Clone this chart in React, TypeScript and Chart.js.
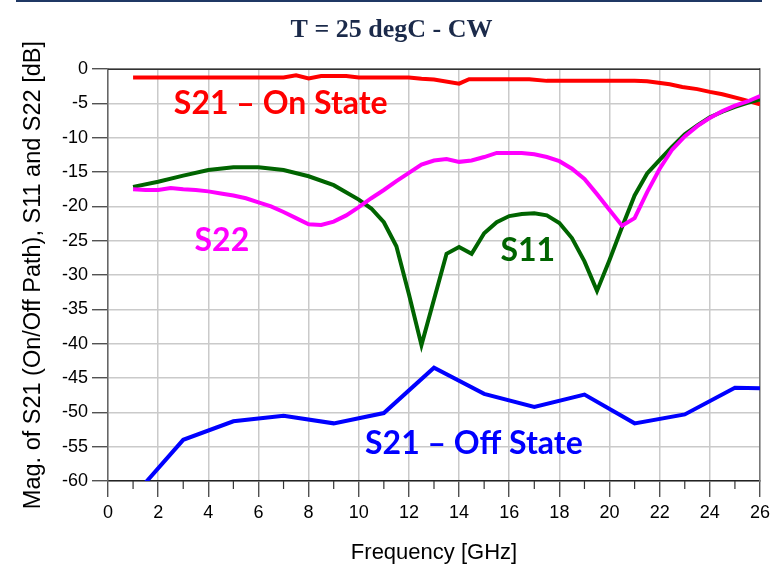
import React, { useEffect, useRef } from "react";
import { Chart, registerables } from "chart.js";

Chart.register(...registerables);

// ---- Data ----
const chartTitle = "T = 25 degC - CW";
const xAxisTitle = "Frequency [GHz]";
const yAxisTitle = "Mag. of S21 (On/Off Path), S11 and S22 [dB]";

const s21OnFreq = [1, 2, 3, 4, 5, 6, 7, 7.5, 8, 8.5, 9, 9.5, 10, 11, 12, 12.5, 13, 14, 14.4, 15, 16, 16.8, 17.5, 18, 19, 20, 21, 21.5, 22.4, 22.9, 23.5, 24, 24.5, 25.3, 26];
const s21OnDb = [-1.2, -1.2, -1.2, -1.2, -1.2, -1.2, -1.2, -0.9, -1.35, -1.0, -1.0, -1.0, -1.2, -1.2, -1.2, -1.4, -1.5, -2.1, -1.45, -1.45, -1.45, -1.45, -1.7, -1.7, -1.7, -1.7, -1.7, -1.75, -2.2, -2.6, -2.9, -3.3, -3.65, -4.4, -5.1];

const s21OffFreq = [1, 3, 5, 7, 9, 11, 13, 15, 17, 19, 21, 23, 25, 26];
const s21OffDb = [-62.3, -54.0, -51.3, -50.5, -51.6, -50.1, -43.5, -47.3, -49.2, -47.4, -51.6, -50.3, -46.4, -46.5];

const s11Freq = [1, 2, 3, 4, 5, 6, 7, 8, 9, 10, 10.5, 11, 11.5, 12, 12.5, 13.5, 14, 14.5, 15, 15.5, 16, 16.5, 17, 17.5, 18, 18.5, 19, 19.5, 20, 20.5, 21, 21.5, 22, 22.5, 23, 23.5, 24, 24.5, 25, 25.5, 26];
const s11Db = [-17.15, -16.4, -15.5, -14.7, -14.3, -14.3, -14.7, -15.6, -16.9, -19.0, -20.3, -22.3, -25.8, -32.8, -40.2, -26.9, -25.9, -26.9, -23.9, -22.3, -21.4, -21.1, -21.0, -21.3, -22.4, -24.6, -28.0, -32.3, -27.8, -23.0, -18.4, -15.2, -13.2, -11.3, -9.5, -8.2, -7.0, -6.2, -5.5, -4.9, -4.4];

const s22Freq = [1, 1.5, 2, 2.5, 3, 3.5, 4, 4.5, 5, 5.5, 6, 6.5, 7, 7.5, 8, 8.5, 9, 9.5, 10, 10.5, 11, 11.5, 12, 12.5, 13, 13.5, 14, 14.5, 15, 15.5, 16, 16.5, 17, 17.5, 18, 18.5, 19, 19.5, 20, 20.5, 21, 21.5, 22, 22.5, 23, 23.5, 24, 24.5, 25, 25.5, 26];
const s22Db = [-17.5, -17.6, -17.6, -17.3, -17.5, -17.6, -17.8, -18.1, -18.4, -18.8, -19.4, -20.0, -20.8, -21.7, -22.6, -22.7, -22.2, -21.3, -20.1, -18.8, -17.6, -16.3, -15.1, -13.9, -13.3, -13.1, -13.5, -13.3, -12.8, -12.2, -12.2, -12.2, -12.4, -12.8, -13.4, -14.5, -16.0, -18.2, -20.5, -22.8, -21.7, -17.9, -14.5, -11.7, -9.8, -8.3, -7.1, -6.1, -5.3, -4.7, -3.9];

const labelTexts = ["S21 \u2013 On State", "S22", "S11", "S21 \u2013 Off State"];
const labelFreq = [6.89, 4.54, 16.74, 14.59];
const labelDb = [-5.0, -25.05, -26.5, -54.5];
const labelColors = ["#ff0000", "#ff00ff", "#006400", "#0000ff"];

const toPts = (xs: number[], ys: number[]) => xs.map((x, i) => ({ x, y: ys[i] }));

const decorPlugin = {
  id: "decor",
  beforeDraw(chart: any) {
    const ctx = chart.ctx;
    ctx.save();
    ctx.strokeStyle = "#1f3864";
    ctx.lineWidth = 2;
    ctx.beginPath();
    ctx.moveTo(16, 1);
    ctx.lineTo(762, 1);
    ctx.stroke();
    ctx.restore();
  },
  beforeDatasetsDraw(chart: any) {
    const { ctx, chartArea, scales } = chart;
    ctx.save();
    ctx.strokeStyle = "#333333";
    ctx.lineWidth = 1.5;
    ctx.beginPath();
    ctx.moveTo(chartArea.left, chartArea.top);
    ctx.lineTo(chartArea.right, chartArea.top);
    ctx.stroke();
    ctx.lineWidth = 1.2;
    for (let f = 1; f < 26; f += 2) {
      const x = scales.x.getPixelForValue(f);
      ctx.beginPath();
      ctx.moveTo(x, chartArea.bottom);
      ctx.lineTo(x, chartArea.bottom + 8);
      ctx.stroke();
    }
    ctx.restore();
  },
  afterDatasetsDraw(chart: any) {
    const { ctx, scales } = chart;
    ctx.save();
    ctx.textAlign = "center";
    ctx.textBaseline = "middle";
    ctx.font = "bold 32px Lato";
    labelTexts.forEach((t, i) => {
      ctx.fillStyle = labelColors[i];
      ctx.fillText(t, scales.x.getPixelForValue(labelFreq[i]), scales.y.getPixelForValue(labelDb[i]));
    });
    ctx.restore();
  },
};

export default function App() {
  const ref = useRef<HTMLCanvasElement | null>(null);
  useEffect(() => {
    if (!ref.current) return;
    Chart.defaults.font.family = "'Liberation Sans', Arial, sans-serif";
    const chart = new Chart(ref.current, {
      type: "line",
      data: {
        datasets: [
          { label: "S22", data: toPts(s22Freq, s22Db), borderColor: "#ff00ff", borderWidth: 4, pointRadius: 0, tension: 0, fill: false, clip: 0 },
          { label: "S11", data: toPts(s11Freq, s11Db), borderColor: "#006400", borderWidth: 4, pointRadius: 0, tension: 0, fill: false, clip: 0 },
          { label: "S21 On", data: toPts(s21OnFreq, s21OnDb), borderColor: "#ff0000", borderWidth: 4, pointRadius: 0, tension: 0, fill: false, clip: 0 },
          { label: "S21 Off", data: toPts(s21OffFreq, s21OffDb), borderColor: "#0000ff", borderWidth: 4, pointRadius: 0, tension: 0, fill: false, clip: 0 },
        ],
      },
      options: {
        responsive: false,
        animation: false,
        layout: { padding: { left: 0, right: 0, top: 0, bottom: 0 } },
        plugins: {
          legend: { display: false },
          tooltip: { enabled: false },
          title: {
            display: true,
            text: chartTitle,
            color: "#1b2a4a",
            font: { family: "'Liberation Serif', 'Times New Roman', serif", size: 26, weight: "bold" },
            padding: { top: 15, bottom: 23 },
          },
        },
        scales: {
          x: {
            type: "linear",
            min: 0,
            max: 26,
            ticks: { stepSize: 2, color: "#000", font: { size: 18 }, padding: 5, maxRotation: 0, autoSkip: false },
            grid: { color: "#cacaca", lineWidth: 1.5, tickLength: 16, tickColor: "#333333", tickWidth: 1.2 },
            border: { color: "#222222", width: 1.5 },
            title: { display: true, text: xAxisTitle, color: "#000", font: { size: 22 }, padding: { top: 0, bottom: 0 } },
            afterFit: (s: any) => { s.height = 85; },
          },
          y: {
            type: "linear",
            min: -60,
            max: 0,
            ticks: { stepSize: 5, color: "#000", font: { size: 18 }, padding: 4 },
            grid: { color: "#cacaca", lineWidth: 1.5, tickLength: 16, tickColor: "#333333", tickWidth: 1.2 },
            border: { color: "#666666", width: 1.5 },
            title: { display: true, text: yAxisTitle, color: "#000", font: { size: 23.5 }, padding: { top: 19, bottom: 0 } },
            afterFit: (s: any) => { s.width = 108; },
          },
          y2: {
            type: "linear",
            position: "right",
            display: true,
            min: -60,
            max: 0,
            ticks: { display: false },
            grid: { drawOnChartArea: false, drawTicks: false },
            border: { color: "#777777", width: 1.5 },
            afterFit: (s: any) => { s.width = 23; },
          },
        },
      } as any,
      plugins: [decorPlugin],
    });
    return () => chart.destroy();
  }, []);
  return (
    <div style={{ position: "fixed", left: 0, top: 0, width: 783, height: 566, background: "#fff" }}>
      <canvas ref={ref} width={783} height={566} />
    </div>
  );
}
